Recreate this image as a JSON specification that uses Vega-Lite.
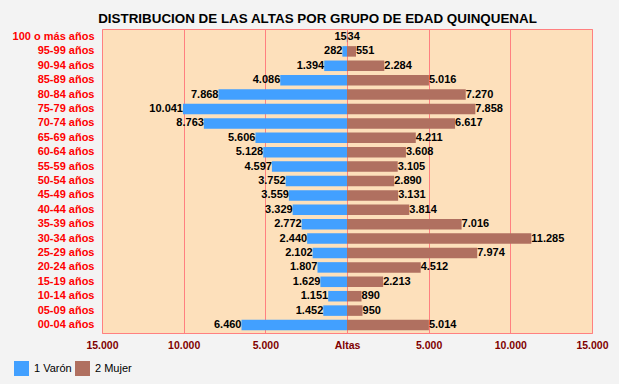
{
  "$schema": "https://vega.github.io/schema/vega-lite/v6.json",
  "background": "#f3f3f3",
  "padding": {"left": 10, "top": 12, "right": 10, "bottom": 8},
  "bounds": "flush",
  "spacing": 0,
  "title": {"text": "DISTRIBUCION DE LAS ALTAS POR GRUPO DE EDAD QUINQUENAL", "font": "Liberation Sans", "fontSize": 13.4, "fontWeight": "bold", "color": "#000000", "anchor": "middle", "offset": 3, "dx": 8},
  "config": {
    "locale": {"number": {"decimal": ",", "thousands": ".", "grouping": [3], "currency": ["", " €"]}},
    "view": {"fill": "#fde0bb", "stroke": "#ff8080", "strokeWidth": 1},
    "concat": {"spacing": 0},
    "font": "Liberation Sans"
  },
  "data": {"values": [
    {"age": "100 o más años", "sex": "1 Varón", "value": 15},
    {"age": "100 o más años", "sex": "2 Mujer", "value": 34},
    {"age": "95-99 años", "sex": "1 Varón", "value": 282},
    {"age": "95-99 años", "sex": "2 Mujer", "value": 551},
    {"age": "90-94 años", "sex": "1 Varón", "value": 1394},
    {"age": "90-94 años", "sex": "2 Mujer", "value": 2284},
    {"age": "85-89 años", "sex": "1 Varón", "value": 4086},
    {"age": "85-89 años", "sex": "2 Mujer", "value": 5016},
    {"age": "80-84 años", "sex": "1 Varón", "value": 7868},
    {"age": "80-84 años", "sex": "2 Mujer", "value": 7270},
    {"age": "75-79 años", "sex": "1 Varón", "value": 10041},
    {"age": "75-79 años", "sex": "2 Mujer", "value": 7858},
    {"age": "70-74 años", "sex": "1 Varón", "value": 8763},
    {"age": "70-74 años", "sex": "2 Mujer", "value": 6617},
    {"age": "65-69 años", "sex": "1 Varón", "value": 5606},
    {"age": "65-69 años", "sex": "2 Mujer", "value": 4211},
    {"age": "60-64 años", "sex": "1 Varón", "value": 5128},
    {"age": "60-64 años", "sex": "2 Mujer", "value": 3608},
    {"age": "55-59 años", "sex": "1 Varón", "value": 4597},
    {"age": "55-59 años", "sex": "2 Mujer", "value": 3105},
    {"age": "50-54 años", "sex": "1 Varón", "value": 3752},
    {"age": "50-54 años", "sex": "2 Mujer", "value": 2890},
    {"age": "45-49 años", "sex": "1 Varón", "value": 3559},
    {"age": "45-49 años", "sex": "2 Mujer", "value": 3131},
    {"age": "40-44 años", "sex": "1 Varón", "value": 3329},
    {"age": "40-44 años", "sex": "2 Mujer", "value": 3814},
    {"age": "35-39 años", "sex": "1 Varón", "value": 2772},
    {"age": "35-39 años", "sex": "2 Mujer", "value": 7016},
    {"age": "30-34 años", "sex": "1 Varón", "value": 2440},
    {"age": "30-34 años", "sex": "2 Mujer", "value": 11285},
    {"age": "25-29 años", "sex": "1 Varón", "value": 2102},
    {"age": "25-29 años", "sex": "2 Mujer", "value": 7974},
    {"age": "20-24 años", "sex": "1 Varón", "value": 1807},
    {"age": "20-24 años", "sex": "2 Mujer", "value": 4512},
    {"age": "15-19 años", "sex": "1 Varón", "value": 1629},
    {"age": "15-19 años", "sex": "2 Mujer", "value": 2213},
    {"age": "10-14 años", "sex": "1 Varón", "value": 1151},
    {"age": "10-14 años", "sex": "2 Mujer", "value": 890},
    {"age": "05-09 años", "sex": "1 Varón", "value": 1452},
    {"age": "05-09 años", "sex": "2 Mujer", "value": 950},
    {"age": "00-04 años", "sex": "1 Varón", "value": 6460},
    {"age": "00-04 años", "sex": "2 Mujer", "value": 5014}
  ]},
  "resolve": {"scale": {"color": "shared", "x": "independent", "y": "shared"}, "legend": {"color": "shared"}},
  "hconcat": [
    {
      "width": 245,
      "height": 304,
      "transform": [{"filter": "datum.sex == '1 Varón'"}],
      "encoding": {
        "y": {"field": "age", "type": "nominal",
          "sort": ["100 o más años", "95-99 años", "90-94 años", "85-89 años", "80-84 años", "75-79 años", "70-74 años", "65-69 años", "60-64 años", "55-59 años", "50-54 años", "45-49 años", "40-44 años", "35-39 años", "30-34 años", "25-29 años", "20-24 años", "15-19 años", "10-14 años", "05-09 años", "00-04 años"],
          "scale": {"paddingInner": 0.27, "paddingOuter": 0.19},
          "axis": {"title": null, "ticks": false, "domain": false, "grid": false, "labelColor": "#ff0000", "labelFont": "Liberation Sans", "labelFontSize": 11, "labelFontWeight": "bold", "labelPadding": 8, "minExtent": 91, "maxExtent": 91}},
        "x": {"field": "value", "type": "quantitative",
          "scale": {"domain": [0, 15000], "reverse": true, "nice": false, "zero": false},
          "axis": {"title": null, "values": [0, 5000, 10000, 15000], "format": ",d", "labelExpr": "datum.value == 0 ? 'Altas' : datum.label", "ticks": false, "domain": false, "grid": true, "gridColor": "#ff8080", "gridOpacity": 1, "gridWidth": 1, "labelColor": "#800000", "labelFont": "Liberation Sans", "labelFontSize": 10.5, "labelFontWeight": "bold", "labelPadding": 7, "labelFlush": false, "labelOverlap": false, "labelBound": false}}
      },
      "layer": [
        {"mark": {"type": "bar", "opacity": 1},
         "encoding": {"color": {"field": "sex", "type": "nominal", "scale": {"domain": ["1 Varón", "2 Mujer"], "range": ["#42a0ff", "#b07060"]},
           "legend": {"title": null, "orient": "none", "legendX": -88, "legendY": 332, "direction": "horizontal", "symbolType": "square", "symbolSize": 225, "symbolStrokeWidth": 0, "symbolOpacity": 1, "labelFont": "Liberation Sans", "labelFontSize": 11, "labelColor": "#000000", "labelOffset": 5, "columnPadding": 3}}}},
        {"mark": {"type": "text", "align": "right", "baseline": "middle", "dx": 0, "font": "Liberation Sans", "fontSize": 11, "fontWeight": "bold", "color": "#000000"},
         "encoding": {"text": {"field": "value", "type": "quantitative", "format": ",d"}}}
      ]
    },
    {
      "width": 245,
      "height": 304,
      "transform": [{"filter": "datum.sex == '2 Mujer'"}],
      "encoding": {
        "y": {"field": "age", "type": "nominal",
          "sort": ["100 o más años", "95-99 años", "90-94 años", "85-89 años", "80-84 años", "75-79 años", "70-74 años", "65-69 años", "60-64 años", "55-59 años", "50-54 años", "45-49 años", "40-44 años", "35-39 años", "30-34 años", "25-29 años", "20-24 años", "15-19 años", "10-14 años", "05-09 años", "00-04 años"],
          "scale": {"paddingInner": 0.27, "paddingOuter": 0.19},
          "axis": null},
        "x": {"field": "value", "type": "quantitative",
          "scale": {"domain": [0, 15000], "nice": false, "zero": false},
          "axis": {"title": null, "values": [0, 5000, 10000, 15000], "format": ",d", "labelExpr": "datum.value == 0 ? '' : datum.label", "ticks": false, "domain": false, "grid": true, "gridColor": "#ff8080", "gridOpacity": 1, "gridWidth": 1, "labelColor": "#800000", "labelFont": "Liberation Sans", "labelFontSize": 10.5, "labelFontWeight": "bold", "labelPadding": 7, "labelFlush": false, "labelOverlap": false, "labelBound": false}}
      },
      "layer": [
        {"mark": {"type": "bar", "opacity": 1},
         "encoding": {"color": {"field": "sex", "type": "nominal", "scale": {"domain": ["1 Varón", "2 Mujer"], "range": ["#42a0ff", "#b07060"]}}}},
        {"mark": {"type": "text", "align": "left", "baseline": "middle", "dx": 0, "font": "Liberation Sans", "fontSize": 11, "fontWeight": "bold", "color": "#000000"},
         "encoding": {"text": {"field": "value", "type": "quantitative", "format": ",d"}}}
      ]
    }
  ]
}
